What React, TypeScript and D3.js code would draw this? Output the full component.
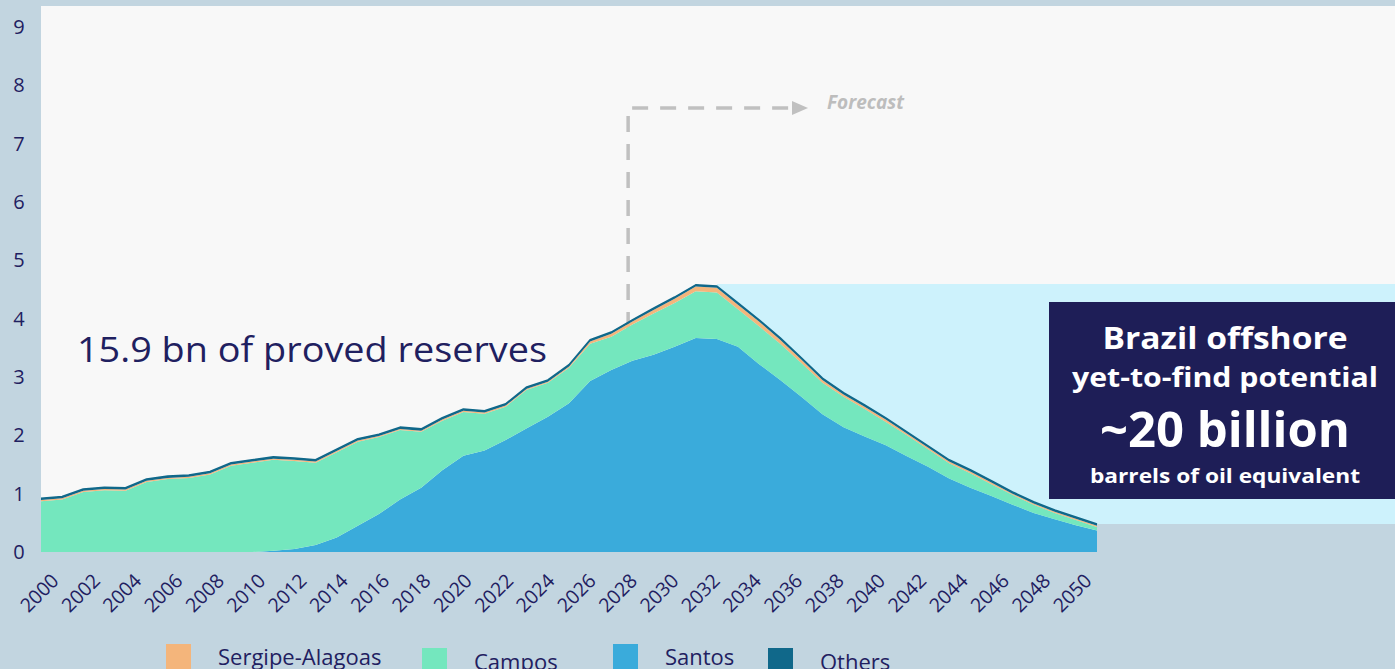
import React from 'react';
import * as d3 from 'd3';

const years = [2000,2001,2002,2003,2004,2005,2006,2007,2008,2009,2010,2011,2012,2013,2014,2015,2016,2017,2018,2019,2020,2021,2022,2023,2024,2025,2026,2027,2028,2029,2030,2031,2032,2033,2034,2035,2036,2037,2038,2039,2040,2041,2042,2043,2044,2045,2046,2047,2048,2049,2050];
const santos = [0,0,0,0,0,0,0,0,0,0,0,0.02,0.05,0.12,0.25,0.45,0.65,0.9,1.1,1.4,1.65,1.74,1.92,2.12,2.32,2.55,2.93,3.12,3.28,3.38,3.52,3.67,3.65,3.52,3.22,2.95,2.66,2.36,2.14,1.98,1.83,1.64,1.46,1.26,1.1,0.96,0.81,0.67,0.56,0.46,0.37];
const campos = [0.87,0.9,1.03,1.06,1.05,1.2,1.25,1.27,1.33,1.48,1.53,1.56,1.51,1.41,1.46,1.44,1.32,1.19,0.96,0.85,0.75,0.63,0.57,0.66,0.58,0.61,0.64,0.57,0.62,0.71,0.75,0.8,0.8,0.64,0.65,0.62,0.58,0.54,0.52,0.47,0.4,0.36,0.3,0.26,0.25,0.2,0.17,0.14,0.11,0.09,0.06];
const sergipe = [0.02,0.02,0.02,0.02,0.02,0.02,0.02,0.02,0.02,0.02,0.02,0.02,0.02,0.02,0.02,0.02,0.02,0.02,0.02,0.02,0.02,0.02,0.02,0.02,0.02,0.02,0.04,0.05,0.05,0.06,0.07,0.08,0.08,0.08,0.08,0.07,0.06,0.05,0.04,0.04,0.04,0.03,0.03,0.03,0.03,0.03,0.02,0.02,0.02,0.02,0.02];
const others = [0.03,0.03,0.03,0.03,0.03,0.03,0.03,0.03,0.03,0.03,0.03,0.03,0.03,0.03,0.03,0.03,0.03,0.03,0.03,0.03,0.03,0.03,0.03,0.03,0.03,0.03,0.03,0.03,0.03,0.03,0.03,0.03,0.03,0.03,0.03,0.03,0.03,0.03,0.03,0.03,0.03,0.03,0.03,0.03,0.03,0.03,0.03,0.03,0.03,0.03,0.03];

const yTicks = [0,1,2,3,4,5,6,7,8,9];
const xTickLabels = ['2000','2002','2004','2006','2008','2010','2012','2014','2016','2018','2020','2022','2024','2026','2028','2030','2032','2034','2036','2038','2040','2042','2044','2046','2048','2050'];

const seriesKeys = ['santos','campos','sergipe','others'];
const seriesColors = { santos: '#3aabdb', campos: '#74e7be', sergipe: '#f4b57b', others: '#10688a' };
const legendNames = ['Sergipe-Alagoas','Campos','Santos','Others'];
const legendKeys = ['sergipe','campos','santos','others'];

const boxLines = ['Brazil offshore','yet-to-find potential','~20 billion','barrels of oil equivalent'];
const annotation = '15.9 bn of proved reserves';
const forecastLabel = 'Forecast';

const NAVY = '#1f2060';
const FONT = "'Open Sans', 'DejaVu Sans', sans-serif";

export default function App() {
  const W = 1395, H = 669;
  const x = d3.scaleLinear().domain([2000, 2050]).range([41, 1097]);
  const y = d3.scaleLinear().domain([0, 9]).range([552, 27]);
  const xLab = d3.scaleLinear().domain([2000, 2050]).range([60, 1093]);

  const table = years.map((yr, i) => ({ year: yr, santos: santos[i], campos: campos[i], sergipe: sergipe[i], others: others[i] }));
  const stack = d3.stack().keys(seriesKeys)(table as any);
  const area = d3.area<any>().x((d) => x(d.data.year)).y0((d) => y(d[0])).y1((d) => y(d[1])).curve(d3.curveLinear);
  const topLine = d3.line<any>().x((d) => x(d.data.year)).y((d) => y(d[1]));

  const legendX = [166, 422, 613, 768];
  const legendTop = [644, 648, 644, 648];
  const legendTextX = [218, 474, 665, 820];
  const legendBase = [665, 670, 665, 670];

  const fx = x(2027.8);
  return (
    <svg width={W} height={H} style={{ position: 'absolute', left: 0, top: 0, display: 'block' }}>
      <rect x={0} y={0} width={W} height={H} fill="#c2d5e0" />
      <rect x={41} y={6} width={W - 41} height={518} fill="#f8f8f8" />
      <rect x={41} y={520} width={1097 - 41} height={32} fill="#f8f8f8" />
      <rect x={717} y={284} width={W - 717} height={240} fill="#cdf2fc" />

      {/* forecast dashed arrow */}
      <path d={`M${fx},552 L${fx},108 L793,108`} fill="none" stroke="#c0c0c0" strokeWidth={3.5} strokeDasharray="16 12" />
      <path d={`M792,101 L808,108 L792,115 Z`} fill="#c0c0c0" />
      <text x={827} y={109} fontFamily={FONT} fontSize={19} fontWeight={700} fontStyle="italic" fill="#bdbdbd">{forecastLabel}</text>

      {/* areas */}
      {stack.map((s: any) => (
        <path key={s.key} d={area(s) || ''} fill={(seriesColors as any)[s.key]} />
      ))}
      <path d={topLine(stack[3] as any) || ''} fill="none" stroke="#10688a" strokeWidth={1.6} strokeLinejoin="round" />

      {/* y axis labels */}
      {yTicks.map((t) => (
        <text key={t} x={19} y={y(t) + 7} textAnchor="middle" fontFamily={FONT} fontSize={20} fill={NAVY}>{t}</text>
      ))}

      {/* x axis labels */}
      {xTickLabels.map((lab) => {
        const px = xLab(+lab);
        const py = 582;
        return (
          <text key={lab} x={px} y={py} textAnchor="end" transform={`rotate(-45 ${px} ${py})`} fontFamily={FONT} fontSize={19.5} fill={NAVY}>{lab}</text>
        );
      })}

      {/* annotation */}
      <text x={77} y={362} fontFamily={FONT} fontSize={35} fill={NAVY} textLength={470} lengthAdjust="spacingAndGlyphs">{annotation}</text>

      {/* navy box */}
      <rect x={1049} y={302} width={W - 1049} height={197} fill="#1e1e57" />
      <text x={1225} y={349} textAnchor="middle" fontFamily={FONT} fontWeight={700} fontSize={30} fill="#ffffff" textLength={245} lengthAdjust="spacingAndGlyphs">{boxLines[0]}</text>
      <text x={1225} y={387} textAnchor="middle" fontFamily={FONT} fontWeight={700} fontSize={26} fill="#ffffff" textLength={306} lengthAdjust="spacingAndGlyphs">{boxLines[1]}</text>
      <text x={1225} y={447} textAnchor="middle" fontFamily={FONT} fontWeight={700} fontSize={48} fill="#ffffff" textLength={250} lengthAdjust="spacingAndGlyphs">{boxLines[2]}</text>
      <text x={1225} y={483} textAnchor="middle" fontFamily={FONT} fontWeight={700} fontSize={20} fill="#ffffff" textLength={270} lengthAdjust="spacingAndGlyphs">{boxLines[3]}</text>

      {/* legend */}
      {legendNames.map((n, i) => (
        <g key={n}>
          <rect x={legendX[i]} y={legendTop[i]} width={25} height={30} fill={(seriesColors as any)[legendKeys[i]]} />
          <text x={legendTextX[i]} y={legendBase[i]} fontFamily={FONT} fontSize={22} fill={NAVY}>{n}</text>
        </g>
      ))}
    </svg>
  );
}
